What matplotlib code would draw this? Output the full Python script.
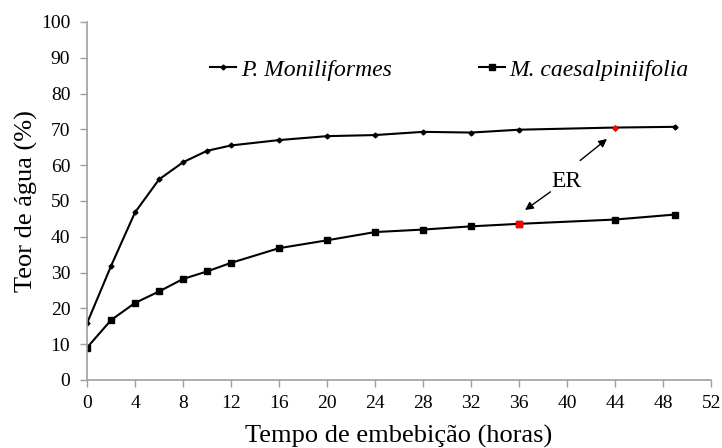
import matplotlib.pyplot as plt

plt.rcParams['font.family'] = ['Liberation Serif', 'DejaVu Serif']

# Tempo de embebição (horas)
horas = [0, 2, 4, 6, 8, 10, 12, 16, 20, 24, 28, 32, 36, 44, 49]
# Teor de água (%)
p_moniliformes = [15.8, 31.8, 46.8, 56.0, 60.8, 64.0, 65.5, 67.0, 68.1, 68.4, 69.3, 69.1, 69.9, 70.5, 70.7]
m_caesalpiniifolia = [9.0, 16.7, 21.5, 24.7, 28.2, 30.3, 32.7, 36.8, 39.0, 41.3, 42.0, 42.9, 43.6, 44.8, 46.2]

# pontos de embebição rápida (ER) destacados em vermelho
er_p = 44
er_m = 36

fig = plt.figure(figsize=(7.22, 4.48), dpi=100)
ax = fig.add_axes([0.1205, 0.152, 0.8645, 0.799])

ax.plot(horas, p_moniliformes, color='black', lw=1.5, marker='D', ms=2.5,
        label='P. Moniliformes')
ax.plot(horas, m_caesalpiniifolia, color='black', lw=1.5, marker='s', ms=4,
        label='M. caesalpiniifolia')

i = horas.index(er_p)
ax.plot(er_p, p_moniliformes[i], marker='D', ms=2.5, color='red', ls='none')
j = horas.index(er_m)
ax.plot(er_m, m_caesalpiniifolia[j], marker='s', ms=4, color='red', ls='none')

ax.set_xlim(0, 52)
ax.set_ylim(0, 100)
ax.set_xticks(range(0, 53, 4))
ax.set_yticks(range(0, 101, 10))
ax.tick_params(axis='both', labelsize=14, color='#a0a0a0', length=5, width=1)
ax.tick_params(axis='x', pad=6)
ax.tick_params(axis='y', pad=7)
for side in ['top', 'right']:
    ax.spines[side].set_visible(False)
for side in ['left', 'bottom']:
    ax.spines[side].set_color('#a0a0a0')
    ax.spines[side].set_linewidth(1.2)

ax.set_xlabel('Tempo de embebição (horas)', fontsize=19, labelpad=9)
ax.set_ylabel('Teor de água (%)', fontsize=19, labelpad=2)

# anotação ER
ax.text(39.9, 55.3, 'ER', fontsize=17, ha='center', va='center')
arrow = dict(arrowstyle='-|>', color='black', lw=1, mutation_scale=12)
ax.annotate('', xy=(43.5, 67.8), xytext=(40.9, 60.8), arrowprops=arrow)
ax.annotate('', xy=(36.3, 47.0), xytext=(38.8, 53.0), arrowprops=arrow)

ax.legend(loc='center left', bbox_to_anchor=(0.182, 0.866), ncol=2, frameon=False,
          prop={'family': 'Liberation Serif', 'style': 'italic', 'size': 17},
          handlelength=1.1, handletextpad=0.2, columnspacing=3.7, borderaxespad=0)

fig.savefig('out.png', dpi=100)
